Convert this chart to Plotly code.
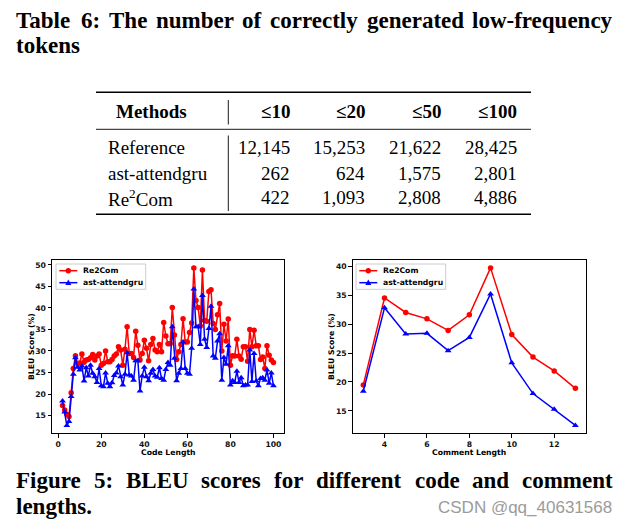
import plotly.graph_objects as go

W, H = 630, 527

# ---------------- data ----------------
table_methods = ["Reference", "ast-attendgru", "Re<sup>2</sup>Com"]
table_columns = ["≤10", "≤20", "≤50", "≤100"]
count_reference = [12145, 15253, 21622, 28425]
count_ast = [262, 624, 1575, 2801]
count_re2com = [422, 1093, 2808, 4886]

code_len = list(range(2, 101))
re2com_code = [17.3, 16.3, 15.3, 14.8, 20.3, 25.9, 28.9, 27.1, 27.2, 29.3, 27.4, 27.9, 28.0, 28.4, 29.2,
               27.9, 28.8, 29.3, 26.7, 27.1, 30.0, 27.5, 27.5, 28.0, 28.8, 29.3, 31.0, 30.2, 26.7, 30.4,
               35.6, 29.4, 29.4, 28.5, 34.6, 31.3, 27.9, 29.4, 32.5, 30.6, 27.7, 31.5, 32.9, 30.2, 29.8,
               31.5, 29.8, 36.6, 33.5, 31.7, 31.7, 40.1, 33.7, 28.0, 29.8, 31.5, 37.5, 32.1, 32.1, 34.3,
               36.5, 49.3, 41.7, 40.1, 35.8, 48.8, 37.1, 36.9, 43.8, 44.2, 36.4, 35.0, 38.4, 41.0, 30.0,
               36.2, 32.3, 37.4, 26.7, 28.9, 28.8, 32.7, 28.8, 28.1, 31.0, 31.0, 27.6, 35.0, 31.0, 34.8,
               31.2, 31.2, 28.0, 28.6, 25.9, 31.2, 29.0, 27.9, 27.3]
ast_code = [18.4, 15.8, 12.7, 13.6, 19.4, 24.6, 28.4, 26.2, 25.6, 26.5, 23.0, 26.1, 24.2, 26.7, 24.8,
            24.0, 22.7, 25.9, 21.9, 21.7, 24.9, 22.5, 21.7, 22.6, 24.3, 24.9, 26.5, 24.0, 22.1, 24.6,
            29.6, 24.4, 24.2, 23.2, 27.7, 27.7, 20.7, 24.2, 26.2, 24.0, 23.1, 24.8, 25.7, 24.2, 23.9,
            26.1, 23.6, 23.2, 25.7, 27.3, 26.7, 35.6, 28.3, 23.1, 24.8, 25.9, 32.1, 25.9, 24.8, 24.6,
            30.6, 44.4, 35.6, 35.6, 31.5, 42.9, 32.7, 30.8, 35.2, 40.4, 28.8, 28.3, 32.3, 34.0, 23.2,
            28.5, 26.9, 31.2, 22.1, 23.1, 22.7, 25.3, 22.7, 23.8, 21.9, 22.1, 22.1, 30.2, 22.9, 29.4,
            23.0, 21.9, 23.6, 23.8, 23.2, 25.6, 22.5, 24.9, 21.9]

comment_len = list(range(3, 14))
re2com_comment = [19.5, 34.5, 32.0, 30.9, 28.9, 31.6, 39.7, 28.2, 24.3, 21.9, 18.9]
ast_comment = [18.4, 32.8, 28.3, 28.4, 25.4, 27.7, 35.2, 23.3, 18.0, 15.3, 12.5]

series_names = ["Re2Com", "ast-attendgru"]

title_line1 = "Table 6: The number of correctly generated low-frequency"
title_line2 = "tokens"
caption_line1 = "Figure 5: BLEU scores for different code and comment"
caption_line2 = "lengths."
watermark = "CSDN @qq_40631568"

# ---------------- helpers ----------------
def px(x):
    return x / W

def py(y):
    return 1 - y / H

SERIF = "Liberation Serif"
SANS = "DejaVu Sans"
TB = {' ': 250, 'B': 667, 'C': 722, 'E': 667, 'F': 611, 'L': 667, 'T': 667, 'U': 722,
      'a': 500, 'b': 556, 'c': 444, 'd': 556, 'e': 444, 'f': 333, 'g': 500, 'h': 556,
      'i': 278, 'k': 556, 'l': 278, 'm': 833, 'n': 556, 'o': 500, 'q': 556, 'r': 444,
      's': 389, 't': 333, 'u': 556, 'w': 722, 'y': 500, ':': 333, '-': 333, '.': 250}

def tw(s, size):
    return sum(TB.get(c, 500) for c in s) * size / 1000.0

annotations = []
shapes = []

def justified(text, x0, x1, yc, size):
    words = text.split(" ")
    widths = [tw(w, size) for w in words]
    gap = (x1 - x0 - sum(widths)) / (len(words) - 1)
    x = x0
    for w, wd in zip(words, widths):
        annotations.append(dict(x=px(x), y=py(yc), xref="paper", yref="paper", text="<b>%s</b>" % w,
                                showarrow=False, xanchor="left", yanchor="middle", borderpad=0,
                                font=dict(family=SERIF, size=size, color="black")))
        x += wd + gap

def text_at(t, x, y, size, anchor="left", family=SERIF, color="black", bold=False, angle=0):
    annotations.append(dict(x=px(x), y=py(y), xref="paper", yref="paper",
                            text=("<b>%s</b>" % t) if bold else t, showarrow=False,
                            xanchor=anchor, yanchor="middle", borderpad=0, textangle=angle,
                            font=dict(family=family, size=size, color=color)))

# ---------------- title & caption ----------------
TS = 23
justified(title_line1, 15, 612, 21, TS)
text_at(title_line2, 15, 45, TS, bold=True)
justified(caption_line1, 15, 612, 480, TS)
text_at(caption_line2, 15, 506, TS, bold=True)
text_at(watermark, 613, 507, 17, anchor="right", family="Liberation Sans", color="#9b9b9b")

# ---------------- table ----------------
FS = 19
col_right = [291, 366, 442, 518]
row_y = [148, 173.5, 197.5]
text_at("Methods", 151, 111, FS, anchor="center", bold=True)
for cx, c in zip(col_right, table_columns):
    text_at(c, cx, 111, FS, anchor="right", bold=True)
for ry, name, vals in zip(row_y, table_methods, [count_reference, count_ast, count_re2com]):
    text_at(name, 107, ry, FS)
    for cx, v in zip(col_right, vals):
        text_at(f"{v:,}", cx, ry, FS, anchor="right")

def hline(y, x0, x1, w, color="black"):
    shapes.append(dict(type="line", xref="paper", yref="paper", x0=px(x0), x1=px(x1),
                       y0=py(y), y1=py(y), line=dict(color=color, width=w)))

def vline(x, y0, y1, w):
    shapes.append(dict(type="line", xref="paper", yref="paper", x0=px(x), x1=px(x),
                       y0=py(y0), y1=py(y1), line=dict(color="black", width=w)))

hline(92.3, 96, 531, 1.6)
hline(129.3, 96, 531, 0.9)
hline(214.3, 96, 531, 1.6)
vline(228.3, 100, 124.5, 0.9)
vline(228.3, 135.5, 211, 0.9)

# ---------------- charts ----------------
CF = 7.7
RED = "#ff0000"
BLUE = "#0000ff"
colors = [RED, BLUE]

def pad_range(vals, frac=0.05):
    lo, hi = min(vals), max(vals)
    d = (hi - lo) * frac
    return [lo - d, hi + d]

fig = go.Figure()
fig.add_trace(go.Scatter(x=code_len, y=re2com_code, mode="lines+markers", name=series_names[0],
                         line=dict(color=RED, width=1.5), marker=dict(symbol="circle", size=5.5, color=RED),
                         xaxis="x", yaxis="y", showlegend=False))
fig.add_trace(go.Scatter(x=code_len, y=ast_code, mode="lines+markers", name=series_names[1],
                         line=dict(color=BLUE, width=1.5), marker=dict(symbol="triangle-up", size=6, color=BLUE),
                         xaxis="x", yaxis="y", showlegend=False))
fig.add_trace(go.Scatter(x=comment_len, y=re2com_comment, mode="lines+markers", name=series_names[0],
                         line=dict(color=RED, width=1.5), marker=dict(symbol="circle", size=5.5, color=RED),
                         xaxis="x2", yaxis="y2", showlegend=False))
fig.add_trace(go.Scatter(x=comment_len, y=ast_comment, mode="lines+markers", name=series_names[1],
                         line=dict(color=BLUE, width=1.5), marker=dict(symbol="triangle-up", size=6, color=BLUE),
                         xaxis="x2", yaxis="y2", showlegend=False))

tickfont = dict(family=SANS, size=CF, color="#111111", weight="bold")
axis_common = dict(showline=True, linecolor="black", linewidth=1, mirror=True, ticks="outside",
                   ticklen=3.5, tickwidth=1, tickcolor="black", showgrid=False, zeroline=False,
                   tickfont=tickfont, fixedrange=True)

ydom = [py(433.3), py(260)]
fig.update_layout(
    xaxis=dict(domain=[px(52), px(284)], range=pad_range(code_len), tickvals=[0, 20, 40, 60, 80, 100],
               anchor="y", **axis_common),
    yaxis=dict(domain=ydom, range=pad_range(re2com_code + ast_code), tickvals=list(range(15, 51, 5)),
               anchor="x", **axis_common),
    xaxis2=dict(domain=[px(352.7), px(586)], range=pad_range(comment_len), tickvals=[4, 6, 8, 10, 12],
                anchor="y2", **axis_common),
    yaxis2=dict(domain=ydom, range=pad_range(re2com_comment + ast_comment), tickvals=list(range(15, 41, 5)),
                anchor="x2", **axis_common),
)

# legends (matplotlib-style boxes)
def legend_box(x0):
    shapes.append(dict(type="rect", xref="paper", yref="paper", x0=px(x0), x1=px(x0 + 89.7),
                       y0=py(289.3), y1=py(264), fillcolor="white",
                       line=dict(color="#cccccc", width=1), layer="above"))
    for i, (name, col) in enumerate(zip(series_names, colors)):
        yc = 270.7 + 12 * i
        hline(yc, x0 + 3.3, x0 + 21.3, 1.5, col)
        cx = x0 + 12.3
        if i == 0:
            shapes.append(dict(type="circle", xref="paper", yref="paper", x0=px(cx - 2.7), x1=px(cx + 2.7),
                               y0=py(yc + 2.7), y1=py(yc - 2.7), fillcolor=col, line=dict(color=col, width=0)))
        else:
            path = "M %f,%f L %f,%f L %f,%f Z" % (px(cx), py(yc - 3.2), px(cx - 3), py(yc + 2.2),
                                                  px(cx + 3), py(yc + 2.2))
            shapes.append(dict(type="path", xref="paper", yref="paper", path=path, fillcolor=col,
                               line=dict(color=col, width=0)))
        text_at(name, x0 + 25.7, yc, CF, family=SANS, bold=True)

legend_box(56)
legend_box(356)

# axis titles
text_at("Code Length", 168, 452.5, CF, anchor="center", family=SANS, bold=True)
text_at("Comment Length", 469, 452.5, CF, anchor="center", family=SANS, bold=True)
text_at("BLEU Score (%)", 31.5, 346.5, CF, anchor="center", family=SANS, bold=True, angle=-90)
text_at("BLEU Score (%)", 331.5, 346.5, CF, anchor="center", family=SANS, bold=True, angle=-90)

fig.update_layout(width=W, height=H, margin=dict(l=0, r=0, t=0, b=0), paper_bgcolor="white",
                  plot_bgcolor="white", annotations=annotations, shapes=shapes, showlegend=False)

fig.write_html("out.html", config={"displayModeBar": False, "staticPlot": True},
               post_script="document.body.style.margin='0';document.body.style.padding='0';")
